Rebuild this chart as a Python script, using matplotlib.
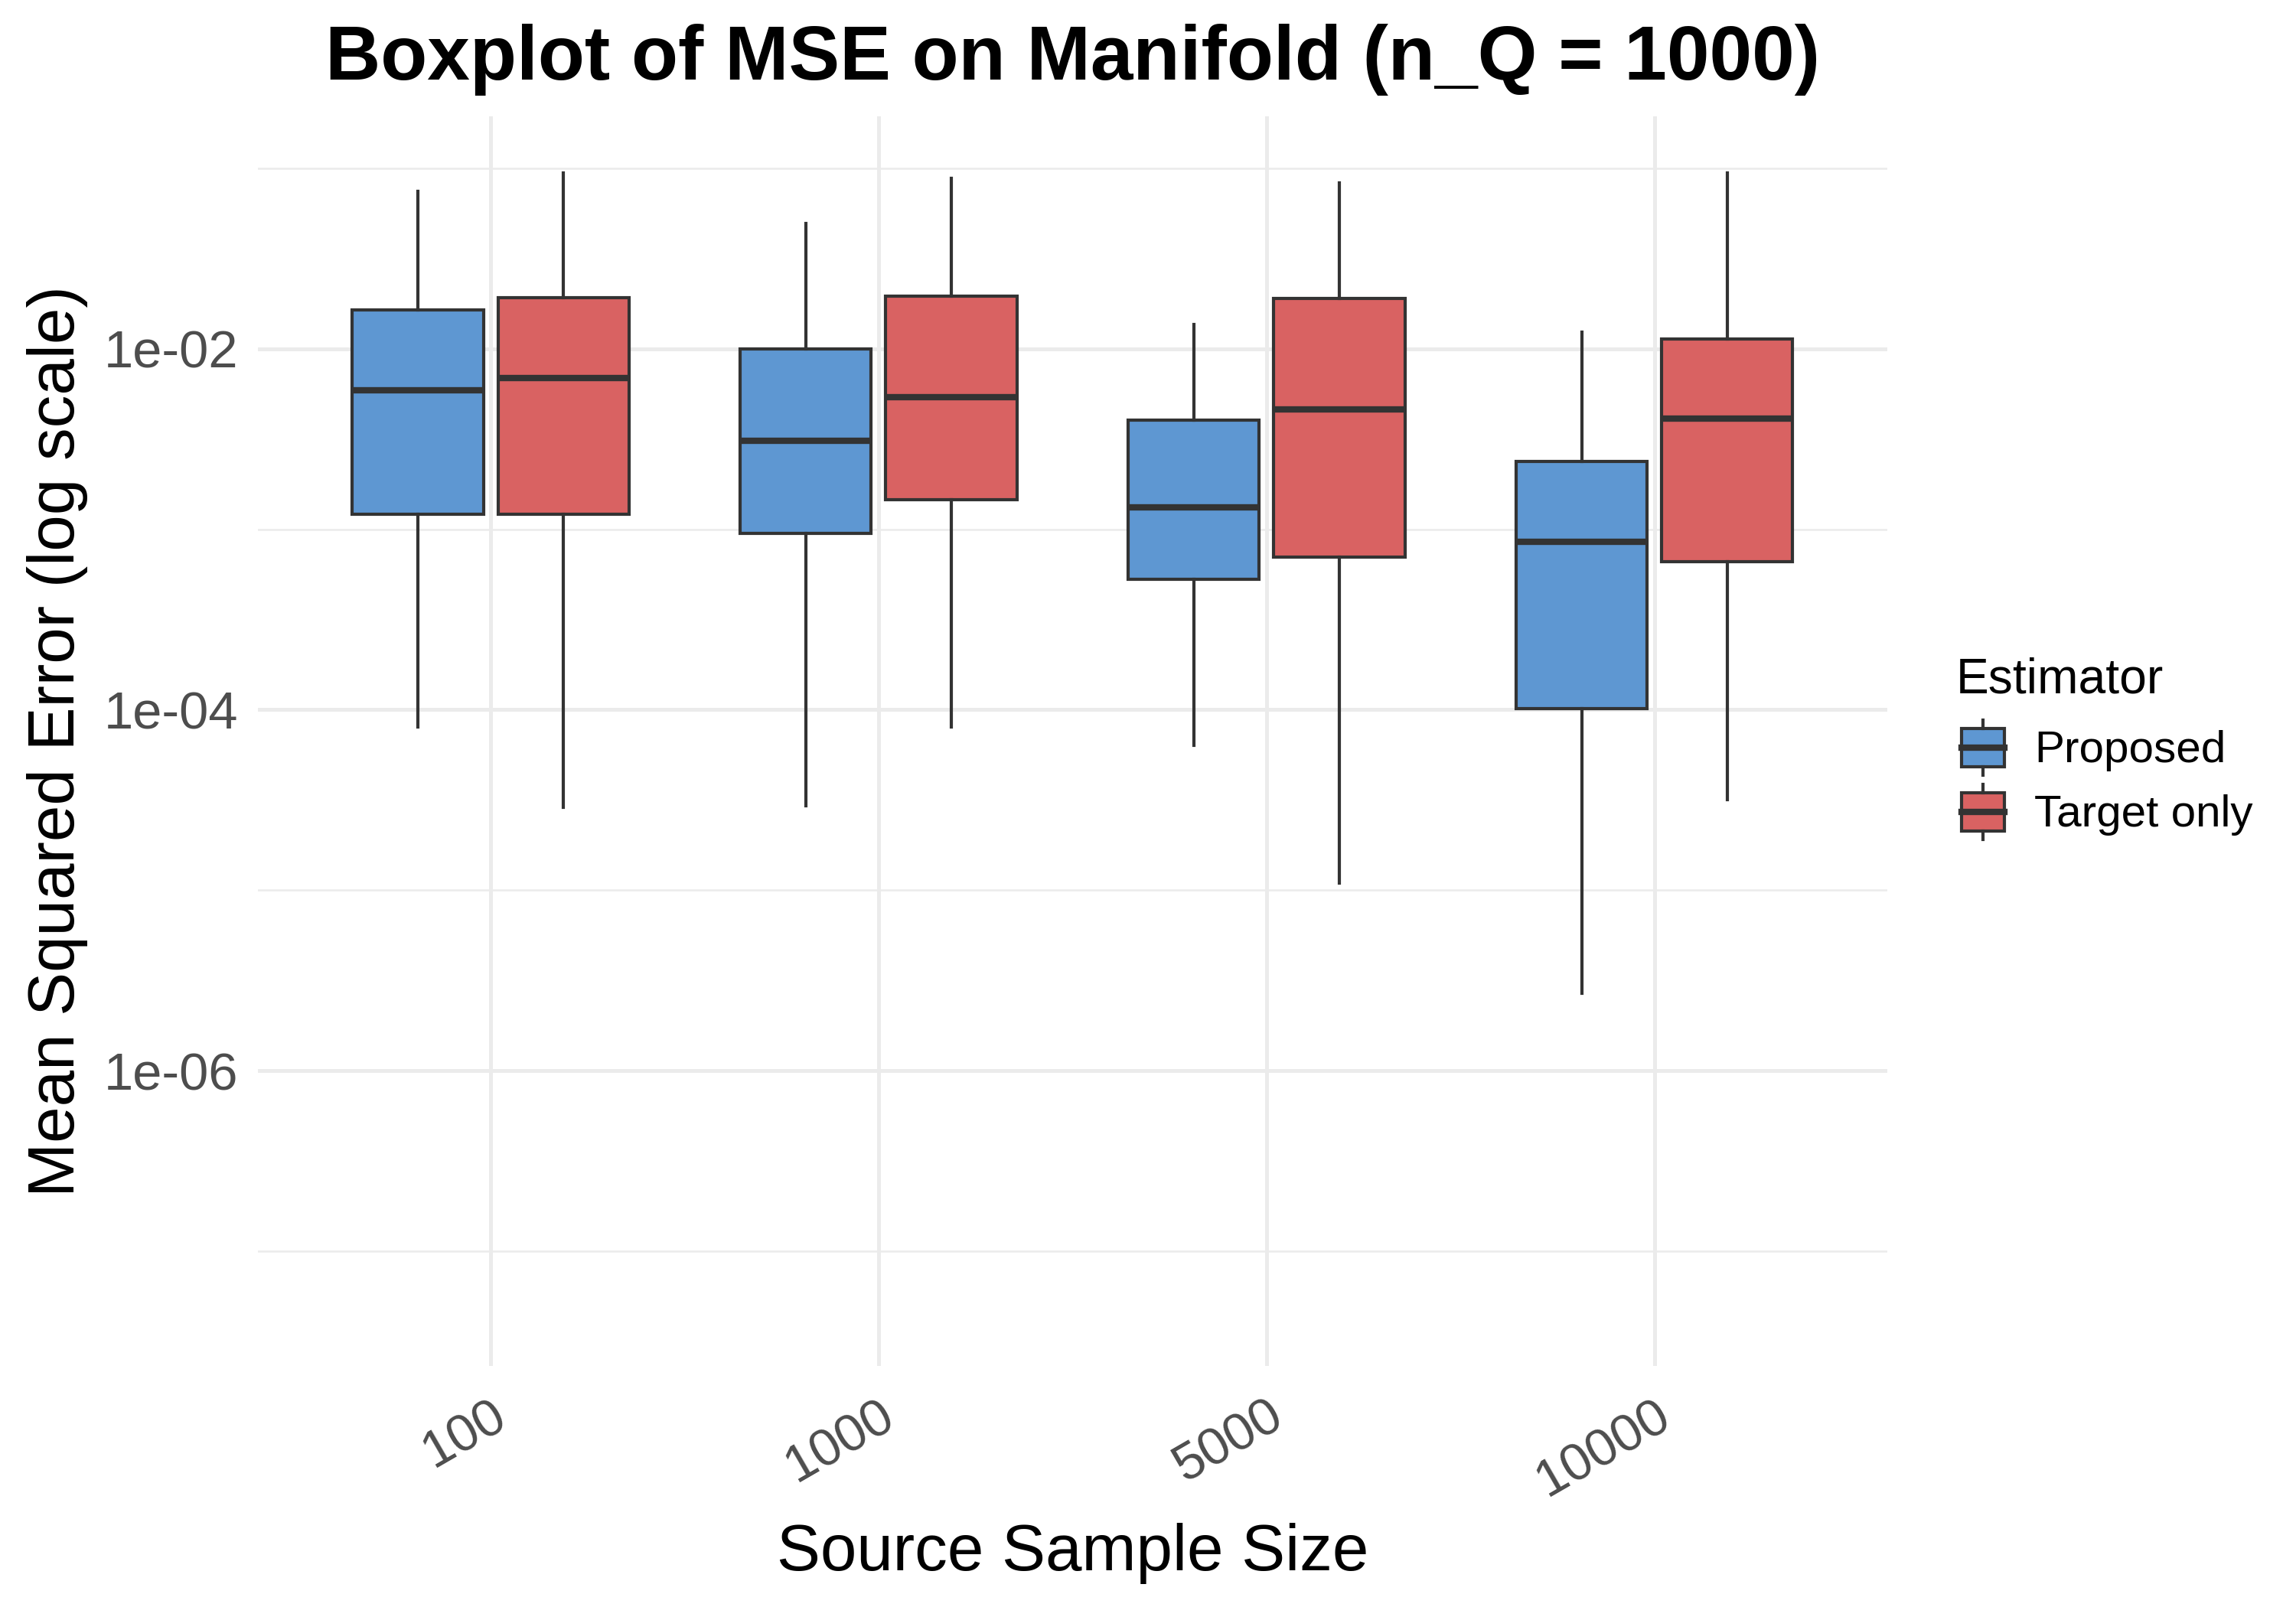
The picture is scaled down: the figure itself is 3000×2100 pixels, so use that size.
import numpy as np
import matplotlib.pyplot as plt
from matplotlib.patches import Rectangle
from matplotlib.lines import Line2D
from matplotlib.legend_handler import HandlerBase
from matplotlib.ticker import FixedLocator, FuncFormatter

plt.rcParams['font.family'] = ['Liberation Sans', 'DejaVu Sans']

# box statistics (MSE, log scale)
sample_sizes = ["100", "1000", "5000", "10000"]
estimators = ["Proposed", "Target only"]

prop_whislo = [10**-4.095, 10**-4.533, 10**-4.198, 10**-5.570]
prop_q1 = [10**-2.915, 10**-3.022, 10**-3.277, 10**-3.995]
prop_med = [10**-2.231, 10**-2.509, 10**-2.879, 10**-3.070]
prop_q3 = [10**-1.783, 10**-2.000, 10**-2.397, 10**-2.625]
prop_whishi = [10**-1.129, 10**-1.304, 10**-1.864, 10**-1.909]

targ_whislo = [10**-4.540, 10**-4.095, 10**-4.959, 10**-4.499]
targ_q1 = [10**-2.915, 10**-2.837, 10**-3.153, 10**-3.179]
targ_med = [10**-2.161, 10**-2.268, 10**-2.335, 10**-2.385]
targ_q3 = [10**-1.718, 10**-1.708, 10**-1.723, 10**-1.946]
targ_whishi = [10**-1.027, 10**-1.054, 10**-1.081, 10**-1.025]

colors = {"Proposed": "#5E97D2", "Target only": "#D96262"}
edge = "#333333"
grid_col = "#EBEBEB"


def make_stats(lo, q1, med, q3, hi):
    return [dict(whislo=a, q1=b, med=c, q3=d, whishi=e, fliers=[])
            for a, b, c, d, e in zip(lo, q1, med, q3, hi)]


class BoxKey(HandlerBase):
    # legend key looking like a small boxplot
    def create_artists(self, legend, orig_handle, xdescent, ydescent,
                       width, height, fontsize, trans):
        x0, y0 = -xdescent, -ydescent
        xm = x0 + width / 2
        lo, hi = 0.17, 0.83
        rect = Rectangle((x0 + 0.1 * width, y0 + lo * height), 0.8 * width, (hi - lo) * height,
                         facecolor=orig_handle.get_facecolor(), edgecolor=edge,
                         linewidth=1.0, transform=trans)
        w1 = Line2D([xm, xm], [y0 + 0.02 * height, y0 + lo * height], color=edge, lw=1.0, transform=trans)
        w2 = Line2D([xm, xm], [y0 + hi * height, y0 + 0.98 * height], color=edge, lw=1.0, transform=trans)
        md = Line2D([x0 + 0.1 * width, x0 + 0.9 * width], [y0 + 0.5 * height] * 2,
                    color=edge, lw=2.0, transform=trans)
        return [rect, w1, w2, md]


fig = plt.figure(figsize=(10, 7), dpi=300)
ax = fig.add_axes([0.1123, 0.150, 0.822 - 0.1123, 0.9276 - 0.150])

x = np.arange(1, len(sample_sizes) + 1)
dodge = 0.1875
box_w = 0.3375

groups = [
    ("Proposed", make_stats(prop_whislo, prop_q1, prop_med, prop_q3, prop_whishi), x - dodge),
    ("Target only", make_stats(targ_whislo, targ_q1, targ_med, targ_q3, targ_whishi), x + dodge),
]

handles = []
for name, stats, pos in groups:
    ax.bxp(stats, positions=pos, widths=box_w, showcaps=False, showfliers=False,
           patch_artist=True, manage_ticks=False,
           boxprops=dict(facecolor=colors[name], edgecolor=edge, linewidth=1.0),
           whiskerprops=dict(color=edge, linewidth=1.0),
           medianprops=dict(color=edge, linewidth=2.0, solid_capstyle='butt'),
           zorder=3)
    handles.append(Rectangle((0, 0), 1, 1, facecolor=colors[name], edgecolor=edge, label=name))

ax.set_yscale('log')
ax.set_ylim(10**-7.636, 10**-0.712)
ax.set_xlim(0.4, len(sample_sizes) + 0.6)

ax.yaxis.set_major_locator(FixedLocator([1e-6, 1e-4, 1e-2]))
ax.yaxis.set_minor_locator(FixedLocator([1e-7, 1e-5, 1e-3, 1e-1]))
ax.yaxis.set_major_formatter(FuncFormatter(lambda v, p: f"{v:.0e}"))
ax.yaxis.set_minor_formatter(FuncFormatter(lambda v, p: ""))
ax.set_xticks(x)
ax.set_xticklabels(sample_sizes, rotation=30, ha='right', va='top', rotation_mode='anchor')

ax.grid(True, which='major', axis='both', color=grid_col, linewidth=1.2, zorder=0)
ax.grid(True, which='minor', axis='y', color=grid_col, linewidth=0.6, zorder=0)
ax.set_axisbelow(True)
for s in ax.spines.values():
    s.set_visible(False)
ax.tick_params(axis='both', which='both', length=0, labelsize=16.5, labelcolor='#4D4D4D')
ax.tick_params(axis='y', pad=6.2)
ax.tick_params(axis='x', pad=8)

ax.set_ylabel("Mean Squared Error (log scale)", fontsize=20.5, labelpad=5)
ax.set_xlabel("Source Sample Size", fontsize=20.5, labelpad=5)
ax.set_title("Boxplot of MSE on Manifold (n_Q = 1000)", fontsize=24, fontweight='bold', pad=11.5)

leg = ax.legend(handles=handles, labels=estimators, handler_map={Rectangle: BoxKey()},
                title="Estimator", loc='center left', bbox_to_anchor=(0.852, 0.534),
                bbox_transform=fig.transFigure, frameon=False, fontsize=14,
                title_fontsize=15.4, handlelength=1.2, handleheight=1.6,
                handletextpad=0.55, labelspacing=0.15, borderaxespad=0, borderpad=0,
                alignment='left')
leg._legend_box.sep = 5.0  # gap between legend title and keys

fig.savefig("out.png", dpi=300)
